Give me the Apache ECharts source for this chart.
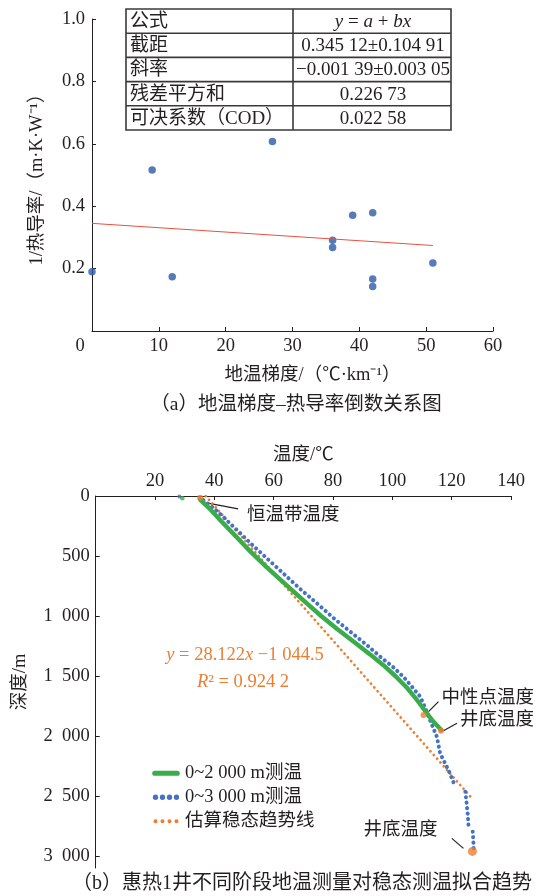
<!DOCTYPE html>
<html>
<head>
<meta charset="utf-8">
<script src="https://cdn.jsdelivr.net/npm/echarts@6/dist/echarts.min.js"></script>
<style>
html, body { margin: 0; padding: 0; background: #fff; }
#main { width: 542px; height: 896px; }
</style>
</head>
<body>
<div id="main"></div>
<script>
// (a) 地温梯度 - 热导率倒数
var gradX = [0, 9, 12, 27, 36, 36, 39, 42, 42, 42, 51];
var invK = [0.19, 0.516, 0.174, 0.607, 0.291, 0.268, 0.371, 0.379, 0.167, 0.143, 0.218];
var fitX = [0, 51];
var fitY = [0.345, 0.274];
var tableKeys = ['公式', '截距', '斜率', '残差平方和', '可决系数（COD）'];
var tableVals = ['{i|y} = {i|a} + {i|bx}', '0.345 12±0.104 91', '−0.001 39±0.003 05', '0.226 73', '0.022 58'];

// (b) 温度(℃) - 深度(m)
var green2000Top = [[29.2, 18]];
var green2000 = [[35.2, 30], [38.6, 110], [42.5, 214], [47.6, 345], [52.2, 464], [57.5, 590],
  [64.2, 740], [70.5, 880], [76.0, 1000], [81.5, 1110], [87.0, 1215], [92.5, 1320], [97.0, 1410],
  [101.0, 1500], [105.0, 1600], [108.0, 1690], [111.0, 1790], [113.8, 1880], [116.5, 1950]];
var blue3000Top = [[28.2, 4]];
var blue3000a = [[36.3, 35], [40.2, 110], [43.5, 186], [48.3, 300], [52.8, 408], [58.4, 535],
  [63.8, 658], [69.3, 783], [74.6, 895], [80.3, 1020], [86.3, 1140], [91.4, 1242], [95.9, 1339],
  [100.0, 1420], [103.7, 1506], [106.6, 1589], [109.4, 1672], [111.0, 1760], [112.2, 1839],
  [115.0, 2006], [116.1, 2144], [118.9, 2283], [121.2, 2422]];
var blue3000b = [[124.6, 2464], [125.0, 2550], [125.4, 2650], [125.7, 2756]];
var blue3000c = [[127.1, 2797], [127.3, 2870], [127.4, 2936]];
var trend = [[37.1, 0], [126.5, 2510]];
var keyNames = ['恒温带温度', '中性点温度', '井底温度', '井底温度'];
var keyPts = [[35.2, 15], [110.5, 1825], [116.4, 1956], [127, 2962]];
var depthTicks = [0, 500, 1000, 1500, 2000, 2500, 3000];

var FONT = "'Liberation Serif', 'Noto Sans CJK SC', serif";
var INK = '#231f20';
var GREEN = '#3aad4a', BLUE = '#4472c4', ORANGE = '#ed7d31';

var chart = echarts.init(document.getElementById('main'));

function axisBase() {
  return {
    type: 'value',
    splitLine: { show: false },
    axisLine: { show: true, onZero: false, lineStyle: { color: INK, width: 1 } },
    axisTick: { show: true, inside: true, length: 4, lineStyle: { color: INK } },
    axisLabel: { color: INK, fontFamily: FONT, fontSize: 18.5 },
    nameTextStyle: { color: INK, fontFamily: FONT, fontSize: 18.5 }
  };
}

var xa = axisBase();
xa.gridIndex = 0; xa.min = 0; xa.max = 60; xa.interval = 10;
xa.name = '地温梯度/（℃·km⁻¹）'; xa.nameLocation = 'middle'; xa.nameGap = 35;
xa.nameTextStyle.padding = [0, 0, 0, 40];
xa.axisLabel.margin = 6;
xa.axisLabel.formatter = function (v) { return v === 0 ? '{z|0}' : String(v); };
xa.axisLabel.rich = { z: { fontFamily: FONT, fontSize: 18.5, color: INK, padding: [0, 24, 0, 0] } };

var ya = axisBase();
ya.gridIndex = 0; ya.min = 0; ya.max = 1; ya.interval = 0.2;
ya.name = '1/热导率/（m·K·W⁻¹）'; ya.nameLocation = 'middle'; ya.nameGap = 46;
ya.axisLabel.margin = 7;
ya.axisLabel.formatter = function (v) { return v === 0 ? '' : v.toFixed(1); };

var xb = axisBase();
xb.gridIndex = 1; xb.position = 'top'; xb.min = 0; xb.max = 140; xb.interval = 20;
xb.name = '温度/℃'; xb.nameLocation = 'middle'; xb.nameGap = 32;
xb.axisLabel.margin = 6;
xb.axisLabel.formatter = function (v) { return v === 0 ? '' : String(v); };

var yb = axisBase();
yb.gridIndex = 1; yb.inverse = true; yb.min = 0; yb.max = 3100;
yb.name = '深度/m'; yb.nameLocation = 'middle'; yb.nameGap = 66;
yb.axisTick.customValues = depthTicks;
yb.axisLabel.customValues = depthTicks;
yb.axisLabel.margin = 6;
yb.axisLabel.formatter = function (v) {
  if (v < 1000) return String(v);
  return Math.floor(v / 1000) + '\u2002' + String(v % 1000).padStart(3, '0');
};

var dotBlue = { color: BLUE, width: 4, type: [0.1, 5.4], cap: 'round' };

function lineSeries(name, data, lineStyle) {
  return {
    name: name, type: 'line', xAxisIndex: 1, yAxisIndex: 1,
    data: data, symbol: 'none', smooth: false,
    itemStyle: { color: lineStyle.color },
    lineStyle: lineStyle, z: 2
  };
}

// legend icons: 4 dots (or a bar) in a 40x10 box
function dotIcon(r) {
  var p = 'path://M0,0L0,0M40,10L40,10';
  [5, 15, 25, 35].forEach(function (c) {
    p += 'M' + (c - r) + ',5a' + r + ',' + r + ' 0 1,0 ' + (2 * r) + ',0a' + r + ',' + r + ' 0 1,0 ' + (-2 * r) + ',0Z';
  });
  return p;
}
var barIcon = 'path://M0,0L0,0M40,10L40,10M4,1.3L36,1.3A3.7,3.7 0 0,1 36,8.7L4,8.7A3.7,3.7 0 0,1 4,1.3Z';

// table built from the arrays above
var tx = 126, ty = 9, tw = 325, tcol = 293, trh = 24.2;
var tableEls = [{
  type: 'rect', shape: { x: tx, y: ty, width: tw, height: trh * 5 },
  style: { fill: '#fff', stroke: '#3a3a3a', lineWidth: 1.6 }
}, {
  type: 'line', shape: { x1: tcol, y1: ty, x2: tcol, y2: ty + trh * 5 },
  style: { stroke: '#3a3a3a', lineWidth: 1.6 }
}];
tableKeys.forEach(function (k, i) {
  if (i > 0) {
    tableEls.push({ type: 'line', shape: { x1: tx, y1: ty + trh * i, x2: tx + tw, y2: ty + trh * i },
      style: { stroke: '#3a3a3a', lineWidth: 1.6 } });
  }
  tableEls.push({ type: 'text', x: tx + 4, y: ty + trh * i + trh / 2 + 1,
    style: { text: k, fontFamily: FONT, fontSize: 19, fill: INK, verticalAlign: 'middle' } });
  tableEls.push({ type: 'text', x: (tcol + tx + tw) / 2 + 1, y: ty + trh * i + trh / 2 + 1,
    style: { text: tableVals[i], fontFamily: FONT, fontSize: 19, fill: INK, align: 'center', verticalAlign: 'middle',
      rich: { i: { fontFamily: FONT, fontSize: 19, fontStyle: 'italic', fill: INK } } } });
});

chart.setOption({
  animation: false,
  grid: [
    { left: 92, top: 19, width: 401, height: 312 },
    { left: 95.7, top: 496, width: 415.3, height: 372 }
  ],
  xAxis: [xa, xb],
  yAxis: [ya, yb],
  legend: {
    data: [
      { name: '0~2 000 m测温', icon: barIcon },
      { name: '0~3 000 m测温', icon: dotIcon(3.8) },
      { name: '估算稳态趋势线', icon: dotIcon(2.9) }
    ],
    orient: 'vertical', left: 147, top: 759,
    itemWidth: 28, itemHeight: 7, itemGap: 5.5,
    textStyle: { color: INK, fontFamily: FONT, fontSize: 18.5 }
  },
  series: [
    {
      type: 'scatter', xAxisIndex: 0, yAxisIndex: 0,
      data: gradX.map(function (x, i) { return [x, invK[i]]; }),
      symbolSize: 7.5, itemStyle: { color: '#2b5ba6' }
    },
    {
      type: 'line', xAxisIndex: 0, yAxisIndex: 0,
      data: fitX.map(function (x, i) { return [x, fitY[i]]; }),
      symbol: 'none', lineStyle: { color: '#e8503f', width: 1 }
    },
    lineSeries('估算稳态趋势线', trend, { color: ORANGE, width: 2.7, type: [0.1, 4.9], cap: 'round' }),
    lineSeries('0~3 000 m测温', blue3000a, dotBlue),
    lineSeries('0~3 000 m测温', blue3000b, dotBlue),
    lineSeries('0~3 000 m测温', blue3000c, dotBlue),
    lineSeries('0~2 000 m测温', green2000, { color: GREEN, width: 4.4, type: 'solid', cap: 'round', join: 'round' }),
    {
      type: 'scatter', xAxisIndex: 1, yAxisIndex: 1, data: blue3000Top,
      symbolSize: 4, itemStyle: { color: BLUE }
    },
    {
      type: 'scatter', xAxisIndex: 1, yAxisIndex: 1, data: green2000Top,
      symbolSize: 4.5, itemStyle: { color: GREEN }
    },
    {
      type: 'scatter', xAxisIndex: 1, yAxisIndex: 1, data: keyPts,
      symbolSize: function (v, p) { return p.dataIndex === 3 ? 9 : 6; },
      itemStyle: { color: ORANGE }, z: 5
    }
  ],
  graphic: tableEls
});

// annotations placed relative to the key points
var px = keyPts.map(function (p) { return chart.convertToPixel({ xAxisIndex: 1, yAxisIndex: 1 }, p); });
var notes = [
  { l: [6.5, 5, 38, 11], t: [47, 17], align: 'left' },
  { l: [5, -3.3, 15, -13.3], t: [18, -16.7], align: 'left' },
  { l: [2.5, 0, 16, -7.4], t: [19, -10.7], align: 'left' },
  { l: [-20.6, -13.1, -9, -3.1], t: [-35, -21.4], align: 'right' }
];
var annot = [];
notes.forEach(function (n, i) {
  var p = px[i];
  annot.push({ type: 'line', shape: { x1: p[0] + n.l[0], y1: p[1] + n.l[1], x2: p[0] + n.l[2], y2: p[1] + n.l[3] },
    style: { stroke: INK, lineWidth: 1.2 } });
  annot.push({ type: 'text', x: p[0] + n.t[0], y: p[1] + n.t[1],
    style: { text: keyNames[i], fontFamily: FONT, fontSize: 18.5, fill: INK, align: n.align, verticalAlign: 'middle' } });
});
var orangeRich = { i: { fontFamily: FONT, fontSize: 18.5, fontStyle: 'italic', fill: ORANGE } };
annot.push({ type: 'text', x: 245, y: 655,
  style: { text: '{i|y} = 28.122{i|x} −1 044.5', fontFamily: FONT, fontSize: 18.5, fill: ORANGE,
    align: 'center', verticalAlign: 'middle', rich: orangeRich } });
annot.push({ type: 'text', x: 243, y: 682,
  style: { text: '{i|R}² = 0.924 2', fontFamily: FONT, fontSize: 18.5, fill: ORANGE,
    align: 'center', verticalAlign: 'middle', rich: orangeRich } });
annot.push({ type: 'text', x: 296, y: 405,
  style: { text: '（a）地温梯度–热导率倒数关系图', fontFamily: FONT, fontSize: 19.5, fill: INK,
    align: 'center', verticalAlign: 'middle' } });
annot.push({ type: 'text', x: 302, y: 884,
  style: { text: '（b）惠热1井不同阶段地温测量对稳态测温拟合趋势', fontFamily: FONT, fontSize: 20, fill: INK,
    align: 'center', verticalAlign: 'middle' } });

chart.setOption({ graphic: tableEls.concat(annot) });
</script>
</body>
</html>
